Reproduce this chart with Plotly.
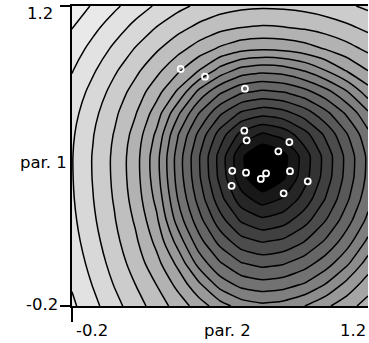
import plotly.graph_objects as go

# grid coordinates (par. 2 on x, par. 1 on y)
par2_grid = [-0.2, -0.1, 0.0, 0.1, 0.2, 0.3, 0.4, 0.5, 0.6, 0.7, 0.8, 0.9, 1.0, 1.1, 1.2]
par1_grid = [-0.2, -0.1, 0.0, 0.1, 0.2, 0.3, 0.4, 0.5, 0.6, 0.7, 0.8, 0.9, 1.0, 1.1, 1.2]

# surface values (contour level); rows follow par1_grid
surface = [
    [18.20, 17.29, 16.36, 15.45, 14.55, 13.58, 12.53, 11.44, 10.58, 10.25, 10.44, 10.99, 11.80, 12.61, 13.42],
    [17.90, 16.94, 15.95, 15.00, 13.98, 12.72, 11.20, 9.60, 8.70, 8.39, 8.58, 9.11, 10.06, 11.33, 12.51],
    [17.64, 16.63, 15.60, 14.56, 13.33, 11.75, 9.62, 8.09, 7.05, 6.67, 6.90, 7.54, 8.52, 9.79, 11.43],
    [17.41, 16.37, 15.31, 14.19, 12.73, 10.63, 8.41, 6.67, 5.42, 4.95, 5.23, 6.02, 7.17, 8.56, 10.23],
    [17.24, 16.16, 15.08, 13.86, 12.19, 9.60, 7.39, 5.40, 3.86, 3.23, 3.61, 4.61, 5.99, 7.57, 9.25],
    [17.12, 16.02, 14.91, 13.58, 11.72, 8.99, 6.62, 4.37, 2.43, 1.51, 2.08, 3.41, 5.05, 6.81, 8.63],
    [17.06, 15.94, 14.81, 13.43, 11.41, 8.64, 6.17, 3.72, 1.36, 0.00, 0.85, 2.61, 4.48, 6.37, 8.26],
    [17.05, 15.93, 14.80, 13.42, 11.37, 8.59, 6.11, 3.63, 1.19, 0.00, 0.65, 2.50, 4.40, 6.31, 8.22],
    [17.14, 16.04, 14.94, 13.63, 11.80, 9.08, 6.75, 4.54, 2.68, 1.83, 2.36, 3.62, 5.20, 6.93, 8.72],
    [17.35, 16.28, 15.22, 14.07, 12.52, 10.23, 8.02, 6.19, 4.85, 4.33, 4.64, 5.49, 6.72, 8.18, 9.83],
    [17.66, 16.65, 15.63, 14.60, 13.39, 11.85, 9.75, 8.21, 7.19, 6.82, 7.04, 7.67, 8.64, 9.93, 11.54],
    [18.06, 17.13, 16.16, 15.24, 14.28, 13.20, 12.01, 10.63, 9.62, 9.31, 9.48, 10.09, 11.02, 12.10, 13.03],
    [18.52, 17.67, 16.80, 15.93, 15.13, 14.34, 13.55, 12.83, 12.30, 12.12, 12.23, 12.55, 13.05, 13.61, 14.23],
    [19.04, 18.26, 17.48, 16.71, 15.97, 15.33, 14.76, 14.30, 14.01, 13.89, 13.96, 14.14, 14.43, 14.80, 15.24],
    [19.60, 18.89, 18.20, 17.51, 16.87, 16.28, 15.80, 15.44, 15.22, 15.14, 15.19, 15.32, 15.54, 15.84, 16.20],
]

# estimated points (white circles)
pts_par2 = [0.615, 0.626, 0.828, 0.776, 0.558, 0.623, 0.718, 0.693, 0.831, 0.915, 0.555, 0.801, 0.314, 0.429, 0.618]
pts_par1 = [0.618, 0.573, 0.565, 0.522, 0.431, 0.422, 0.419, 0.393, 0.429, 0.382, 0.361, 0.326, 0.906, 0.870, 0.814]

x_tick_vals = [-0.2, 1.2]
x_tick_text = ["-0.2", "1.2"]
y_tick_vals = [-0.2, 1.2]
y_tick_text = ["-0.2", "1.2"]
x_title = "par. 2"
y_title = "par. 1"

FONT = dict(family="DejaVu Sans, Arial, sans-serif", size=16.5, color="black")

# grey shade of each filled band (band 0 = innermost)
band_grey = [0, 24, 38, 51, 64, 76, 89, 102, 114, 127, 140, 153, 165, 178, 191, 204,
             216, 226, 233, 239, 244]
n_band = len(band_grey) - 1
colorscale = [[k / n_band, "rgb(%d,%d,%d)" % (g, g, g)] for k, g in enumerate(band_grey)]

fig = go.Figure()
fig.add_trace(go.Contour(
    x=par2_grid, y=par1_grid, z=surface,
    colorscale=colorscale,
    contours=dict(start=1, end=20, size=1, coloring="fill", showlines=True),
    line=dict(color="black", width=1.5, smoothing=0.5),
    showscale=False, hoverinfo="skip",
))
fig.add_trace(go.Scatter(
    x=pts_par2, y=pts_par1, mode="markers",
    marker=dict(symbol="circle-open", size=6, color="white", line=dict(width=1.8, color="white")),
    hoverinfo="skip", showlegend=False,
))

fig.update_xaxes(range=[-0.2, 1.2], showgrid=False, zeroline=False, showline=True,
                 linecolor="black", linewidth=2, mirror=True, ticks="outside",
                 tickvals=x_tick_vals[:1], ticklen=14, tickwidth=1.5, tickcolor="black",
                 showticklabels=False)
fig.update_yaxes(range=[-0.2, 1.2], showgrid=False, zeroline=False, showline=True,
                 linecolor="black", linewidth=2, ticks="outside",
                 tickvals=y_tick_vals, ticklen=10, tickwidth=1.5, tickcolor="black",
                 showticklabels=False)

ann = []
# x tick labels
ann.append(dict(x=x_tick_vals[0], y=0, xref="x", yref="paper", text=x_tick_text[0],
                xanchor="left", yanchor="middle", xshift=2, yshift=-24, showarrow=False, font=FONT))
ann.append(dict(x=x_tick_vals[1], y=0, xref="x", yref="paper", text=x_tick_text[1],
                xanchor="right", yanchor="middle", xshift=0, yshift=-24, showarrow=False, font=FONT))
# y tick labels
ann.append(dict(x=0, y=y_tick_vals[0], xref="paper", yref="y", text=y_tick_text[0],
                xanchor="right", yanchor="middle", xshift=-12, yshift=2, showarrow=False, font=FONT))
ann.append(dict(x=0, y=y_tick_vals[1], xref="paper", yref="y", text=y_tick_text[1],
                xanchor="right", yanchor="middle", xshift=-17, yshift=-7, showarrow=False, font=FONT))
# axis titles
ann.append(dict(x=0.524, y=0, xref="paper", yref="paper", text=x_title,
                xanchor="center", yanchor="middle", yshift=-24, showarrow=False, font=FONT))
ann.append(dict(x=0, y=0.48, xref="paper", yref="paper", text=y_title,
                xanchor="right", yanchor="middle", xshift=-3, showarrow=False, font=FONT))

fig.update_layout(
    width=369, height=343,
    margin=dict(l=72, r=1, t=6, b=37),
    paper_bgcolor="white", plot_bgcolor="white",
    showlegend=False, annotations=ann,
)

fig.write_html("out.html")
